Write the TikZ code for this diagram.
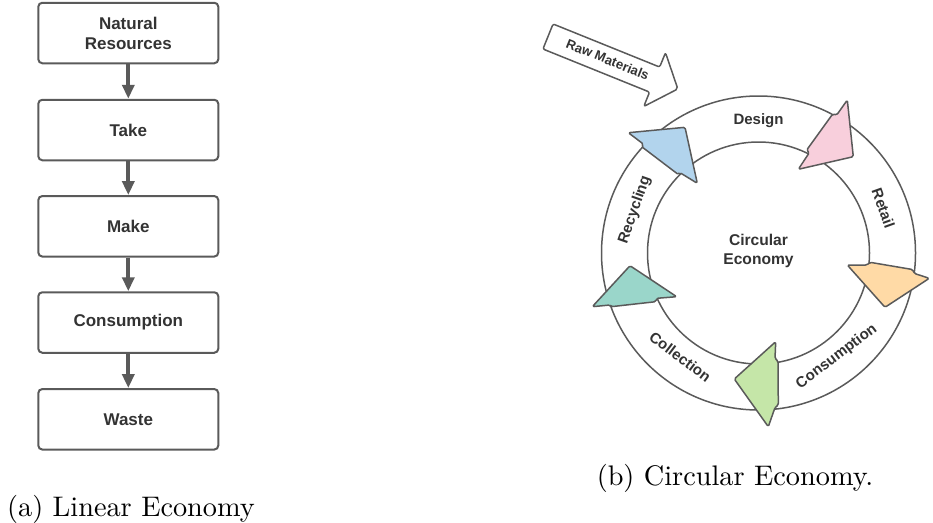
\documentclass[tikz,border=0pt]{standalone}
\usepackage{fontspec}
\newfontfamily\lsans{Liberation Sans}
\usetikzlibrary{arrows.meta,calc}
\definecolor{edgegray}{HTML}{5A5A5A}
\definecolor{txt}{HTML}{333333}
\definecolor{cpink}{RGB}{248,207,220}
\definecolor{corange}{RGB}{255,218,166}
\definecolor{cgreen}{RGB}{197,230,168}
\definecolor{cteal}{RGB}{154,214,202}
\definecolor{cblue}{RGB}{178,212,237}
\begin{document}
\begin{tikzpicture}[x=1pt,y=-1pt,
  box/.style={draw=edgegray, line width=2pt, rounded corners=4pt, minimum width=180pt,
    minimum height=60.5pt, align=center, text=txt, inner sep=0pt,
    font=\lsans\bfseries\fontsize{17}{20}\selectfont},
  flow/.style={draw=edgegray, line width=4pt, -{Triangle[length=14pt,width=12pt]}},
  ring/.style={draw=edgegray, line width=1.5pt},
  ringlbl/.style={text=txt, inner sep=0pt, font=\lsans\bfseries\fontsize{15}{18}\selectfont},
  centerlbl/.style={text=txt, inner sep=0pt, align=center, font=\lsans\bfseries\fontsize{15.6}{18.7}\selectfont},
  arrowshape/.style={draw=edgegray, line width=1.5pt, rounded corners=1.5pt, line join=round},
  rawarrow/.style={draw=edgegray, line width=1.5pt, fill=white, rounded corners=2pt, line join=round},
  rawlbl/.style={text=txt, inner sep=0pt, font=\lsans\bfseries\fontsize{13.2}{15}\selectfont},
  caption/.style={anchor=base, inner sep=0pt, scale=2.83, font=\fontsize{10}{12}\selectfont}
]
\useasboundingbox (0,0) rectangle (933,522);

% ---------- Linear economy ----------
\node[box] (n1) at (128.3,33) {Natural\\Resources};
\node[box] (n2) at (128.3,130) {Take};
\node[box] (n3) at (128.3,226.3) {Make};
\node[box] (n4) at (128.3,322.5) {Consumption};
\node[box] (n5) at (128.3,419.3) {Waste};
\draw[flow] (n1) -- (n2);
\draw[flow] (n2) -- (n3);
\draw[flow] (n3) -- (n4);
\draw[flow] (n4) -- (n5);
\node[caption] (capa) at (131,516.5) {(a) Linear Economy};

% ---------- Circular economy ----------
\coordinate (c) at (758.5,253);
\draw[ring] (c) circle[radius=157];
\draw[ring] (c) circle[radius=111];

\node[centerlbl] (center) at (758.5,251) {Circular\\Economy};
\node[ringlbl] (design) at ($(c)+(-90:132)$) {Design};
\node[ringlbl, rotate=-70.3] (retail) at ($(c)+(-19.7:132.6)$) {Retail};
\node[ringlbl, rotate=37] (consum) at ($(c)+(53:130)$) {Consumption};
\node[ringlbl, rotate=-37] (collect) at ($(c)+(127:130)$) {Collection};
\node[ringlbl, rotate=70.8] (recyc) at ($(c)+(-160.8:131)$) {Recycling};

% pink (design -> retail)
\draw[arrowshape, fill=cpink] (847.3,100) -- (836.7,115) -- (832.7,114) -- (806.7,150)
  -- (809.3,152.7) -- (798.3,169.3) -- (853.3,156.7) -- cycle;
% orange (retail -> consumption)
\draw[arrowshape, fill=corange] (847.3,265) -- (867,265) -- (870,262.3) -- (912.5,269.5)
  -- (914.5,273.5) -- (929.3,278.3) -- (885,307.3) -- cycle;
% green (consumption -> collection)
\draw[arrowshape, fill=cgreen] (775.7,341.7) -- (775,358.5) -- (778,361) -- (778.3,405)
  -- (775,407.5) -- (768.3,426.7) -- (734.3,379) -- cycle;
% teal (collection -> recycling)
\draw[arrowshape, fill=cteal] (676.7,296.7) -- (656.7,298.3) -- (655.7,301.7) -- (611,306.7)
  -- (610,305) -- (592.3,306.7) -- (630,265.7) -- cycle;
% blue (recycling -> design)
\draw[arrowshape, fill=cblue] (697.3,183.3) -- (680,172.7) -- (678.3,174.5) -- (641.7,146.7)
  -- (643.3,144) -- (628.3,132.7) -- (685,127.3) -- cycle;

% raw materials arrow
\begin{scope}[shift={(548,36.5)}, rotate=-22]
  \draw[rawarrow] (0,-13.5) -- (115,-13.5) -- (115,-29) -- (140,0) -- (115,29)
    -- (115,13.5) -- (0,13.5) -- cycle;
  \node[rawlbl, rotate=-22] (raw) at (64,-1) {Raw Materials};
\end{scope}

\node[caption] (capb) at (735,485) {(b) Circular Economy.};
\end{tikzpicture}
\end{document}
